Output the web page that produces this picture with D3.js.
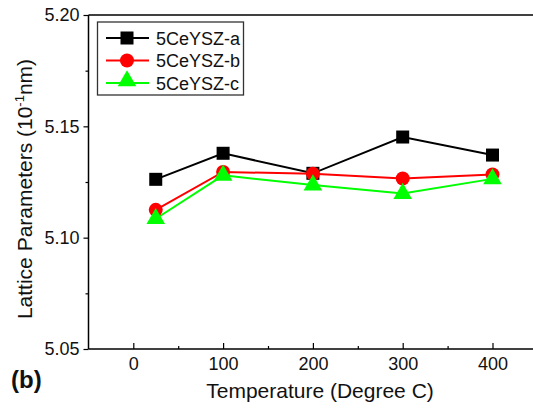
<!DOCTYPE html>
<html><head><meta charset="utf-8">
<script src="https://cdn.jsdelivr.net/npm/d3@7"></script>
<style>html,body{margin:0;padding:0;background:#fff;overflow:hidden}svg{display:block}text{font-family:"Liberation Sans",Arial,Helvetica,sans-serif}</style>
</head><body><svg id="c" width="533" height="409"></svg>
<script>
const temps = [25, 100, 200, 300, 400];
const seriesA = [5.1262, 5.1379, 5.1289, 5.1452, 5.1371];
const seriesB = [5.1125, 5.1295, 5.1287, 5.1266, 5.1284];
const seriesC = [5.1085, 5.1280, 5.1236, 5.1198, 5.1264];
const seriesNames = ["5CeYSZ-a", "5CeYSZ-b", "5CeYSZ-c"];
const seriesColors = ["#000000", "#ff0000", "#00ff00"];
const seriesShapes = ["square", "circle", "triangle"];
const xTicks = [0, 100, 200, 300, 400];
const xMinor = [50, 150, 250, 350, 450];
const yTicks = [5.05, 5.10, 5.15, 5.20];
const yMinor = [5.075, 5.125, 5.175];

const svg = d3.select("#c");
const FONT = '"Liberation Sans",Arial,sans-serif';
const L = 88.5, T = 15, B = 349;
const x = d3.scaleLinear().domain([0, 400]).range([133.3, 492.5]);
const y = d3.scaleLinear().domain([5.05, 5.20]).range([B, T]);
const R = 560;

// frame top
svg.append("line").attr("x1", L).attr("x2", R).attr("y1", T).attr("y2", T).attr("stroke", "#000").attr("stroke-width", 1.5);

// x axis
const xAxis = d3.axisBottom(x).tickValues(xTicks).tickSize(-6).tickPadding(8).tickFormat(d3.format("d"));
const gx = svg.append("g").attr("transform", `translate(0,${B})`).call(xAxis);
gx.select(".domain").remove();
gx.append("line").attr("x1", L).attr("x2", R).attr("stroke", "#000").attr("stroke-width", 1.5);
gx.selectAll(".tick line").attr("stroke-width", 1.2);
gx.selectAll(".tick text").attr("font-size", 18).attr("fill", "#111").style("font-family", FONT);
const gxm = svg.append("g").attr("transform", `translate(0,${B})`).call(d3.axisBottom(x).tickValues(xMinor).tickSize(-3).tickFormat(""));
gxm.select(".domain").remove();
gxm.selectAll(".tick line").attr("stroke-width", 1.2);

// y axis
const yAxis = d3.axisLeft(y).tickValues(yTicks).tickSize(5).tickPadding(4).tickFormat(d3.format(".2f"));
const gy = svg.append("g").attr("transform", `translate(${L},0)`).call(yAxis);
gy.select(".domain").remove();
gy.append("line").attr("y1", T).attr("y2", B).attr("stroke", "#000").attr("stroke-width", 1.5);
gy.selectAll(".tick line").attr("stroke-width", 1.2);
gy.selectAll(".tick text").attr("font-size", 18).attr("fill", "#111").style("font-family", FONT);
const gym = svg.append("g").attr("transform", `translate(${L},0)`).call(d3.axisLeft(y).tickValues(yMinor).tickSize(3).tickFormat(""));
gym.select(".domain").remove();
gym.selectAll(".tick line").attr("stroke-width", 1.2);

// axis titles
svg.append("text").attr("x", 320).attr("y", 398).attr("text-anchor", "middle").attr("font-size", 21).attr("fill", "#111").text("Temperature (Degree C)");
const yt = svg.append("text").attr("transform", "translate(32,189) rotate(-90)").attr("text-anchor", "middle").attr("font-size", 21).attr("fill", "#111");
yt.append("tspan").text("Lattice Parameters (10");
yt.append("tspan").attr("dy", -8).attr("font-size", 13).text("-1");
yt.append("tspan").attr("dy", 8).text("nm)");

svg.append("text").attr("x", 11).attr("y", 388).attr("font-size", 24).attr("font-weight", "bold").attr("fill", "#111").text("(b)");

// markers
function marker(g, shape, color, cx, cy) {
  if (shape === "square") {
    g.append("rect").attr("x", cx - 6.5).attr("y", cy - 6.5).attr("width", 13).attr("height", 13).attr("fill", color);
  } else if (shape === "circle") {
    g.append("circle").attr("cx", cx).attr("cy", cy).attr("r", 7).attr("fill", color);
  } else {
    const s = d3.symbol().type(d3.symbolTriangle).size(150);
    g.append("path").attr("d", s()).attr("transform", `translate(${cx},${cy})`).attr("fill", color);
  }
}

const allSeries = [seriesA, seriesB, seriesC];
const line = d3.line().x((d, i) => x(temps[i])).y(d => y(d));
allSeries.forEach((vals, k) => {
  svg.append("path").datum(vals).attr("d", line).attr("fill", "none").attr("stroke", seriesColors[k]).attr("stroke-width", 2);
});
allSeries.forEach((vals, k) => {
  const g = svg.append("g");
  vals.forEach((v, i) => marker(g, seriesShapes[k], seriesColors[k], x(temps[i]), y(v)));
});

// legend
const lg = svg.append("g");
lg.append("rect").attr("x", 97.5).attr("y", 22).attr("width", 146).attr("height", 73).attr("fill", "#fff").attr("stroke", "#333").attr("stroke-width", 1.3);
const rowsY = [38, 60.5, 83];
seriesNames.forEach((n, k) => {
  lg.append("line").attr("x1", 106).attr("x2", 149).attr("y1", rowsY[k]).attr("y2", rowsY[k]).attr("stroke", seriesColors[k]).attr("stroke-width", 2);
  marker(lg, seriesShapes[k], seriesColors[k], 127, rowsY[k] - (k === 2 ? 2 : 0));
  lg.append("text").attr("x", 156).attr("y", rowsY[k] + 6.5).attr("font-size", 18).attr("fill", "#111").text(n);
});
</script></body></html>
